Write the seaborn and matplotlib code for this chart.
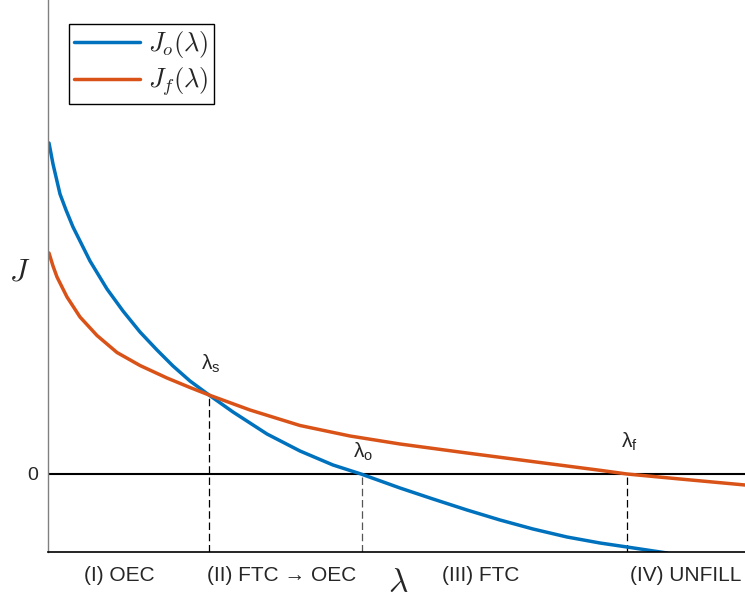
import matplotlib
matplotlib.use("Agg")
import matplotlib.pyplot as plt
from matplotlib.font_manager import FontProperties
import pandas as pd
import seaborn as sns

# curve samples (lambda, J)
lam_o = [0.01, 0.05, 0.12, 0.18, 0.25, 0.42, 0.59, 0.75, 0.92, 1.09, 1.25, 1.42, 1.61,
         1.85, 2.19, 2.52, 2.85, 3.13, 3.52, 3.85, 4.19, 4.52, 4.85, 5.19, 5.52, 5.79, 6.19]
J_o = [3.31, 3.10, 2.80, 2.64, 2.47, 2.13, 1.85, 1.63, 1.42, 1.24, 1.08, 0.93, 0.79,
       0.62, 0.40, 0.23, 0.09, 0.0, -0.14, -0.25, -0.36, -0.46, -0.55, -0.63, -0.69, -0.73, -0.79]

lam_f = [0.01, 0.05, 0.09, 0.19, 0.32, 0.49, 0.69, 0.92, 1.19, 1.42, 1.61, 2.02, 2.52,
         3.02, 3.52, 4.19, 4.85, 5.52, 5.79, 6.32, 6.97]
J_f = [2.21, 2.08, 1.97, 1.77, 1.57, 1.385, 1.215, 1.085, 0.96, 0.865, 0.79, 0.64, 0.485,
       0.38, 0.30, 0.21, 0.124, 0.037, 0.0, -0.05, -0.11]

# special lambdas and where their dashed guides stop
mark_names = ["s", "o", "f"]
mark_lams = [1.61, 3.14, 5.79]
mark_tops = [0.79, 0.0, 0.0]
mark_colors = ["black", "#555555", "black"]

regions = ["(I) OEC", "(II) FTC \u2192 OEC", "(III) FTC", "(IV) UNFILL"]
region_x = [0.71, 2.34, 4.33, 6.38]

BLUE = "#0072BD"
ORANGE = "#D95319"

sns.set_style("white")
plt.rcParams["font.family"] = ["Liberation Sans", "DejaVu Sans"]

fig = plt.figure(figsize=(7.45, 6.01), dpi=100)
ax = fig.add_axes([48 / 745, 1 - 552 / 601, 697 / 745, 552 / 601])

df_o = pd.DataFrame({"lam": lam_o, "J": J_o})
df_f = pd.DataFrame({"lam": lam_f, "J": J_f})
sns.lineplot(data=df_o, x="lam", y="J", color=BLUE, lw=2.5, label=r"$J_o(\lambda)$",
             solid_joinstyle="round", ax=ax)
sns.lineplot(data=df_f, x="lam", y="J", color=ORANGE, lw=2.5, label=r"$J_f(\lambda)$",
             solid_joinstyle="round", ax=ax)

ax.set_xlim(0, 6.97)
ax.set_ylim(-0.78, 4.74)
ax.axhline(0, color="black", lw=1.5, zorder=1)

bottom = ax.get_ylim()[0]
for name, lam, top, col in zip(mark_names, mark_lams, mark_tops, mark_colors):
    ax.plot([lam, lam], [bottom, top], color=col, lw=0.9, linestyle=(0, (6, 3)), zorder=1)

ax.text(1.53, 0.99, r"λ$_\mathregular{s}$", fontsize=15, ha="left", va="bottom")
ax.text(3.05, 0.11, r"λ$_\mathregular{o}$", fontsize=15, ha="left", va="bottom")
ax.text(5.73, 0.21, r"λ$_\mathregular{f}$", fontsize=15, ha="left", va="bottom")

for txt, x in zip(regions, region_x):
    ax.text(x, -0.042, txt, transform=ax.get_xaxis_transform(), fontsize=15,
            ha="center", va="center")

ax.set_xticks([])
ax.set_yticks([0])
ax.set_yticklabels(["0"], fontsize=14)
ax.tick_params(axis="y", length=0, pad=7)

ax.set_xlabel(r"$\lambda$", fontsize=24, math_fontfamily="cm", va="center")
ax.xaxis.set_label_coords(0.502, -0.058)
ax.set_ylabel(r"$J$", fontsize=22, rotation=0, math_fontfamily="cm", ha="center", va="center")
ax.yaxis.set_label_coords(-0.041, 0.507)

for side in ["top", "right"]:
    ax.spines[side].set_visible(False)
ax.spines["left"].set_color("#808080")
ax.spines["left"].set_linewidth(1.0)
ax.spines["bottom"].set_color("black")
ax.spines["bottom"].set_linewidth(1.2)

leg = ax.legend(loc="upper left", bbox_to_anchor=(0.030, 0.957), borderaxespad=0,
                prop=FontProperties(size=19, math_fontfamily="cm"),
                handlelength=2.5, handletextpad=0.3, borderpad=0.2,
                labelspacing=0.2, fancybox=False, framealpha=1)
leg.get_frame().set_edgecolor("black")
leg.get_frame().set_linewidth(1.0)

fig.savefig("out.png", dpi=100)
